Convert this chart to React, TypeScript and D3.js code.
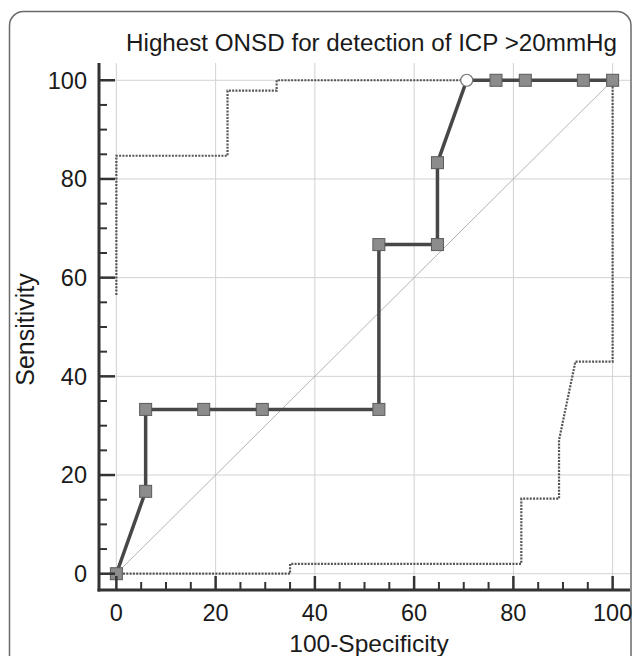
import React from 'react';
import * as d3 from 'd3';

// ROC points (100-Specificity, Sensitivity)
const rocX = [0, 5.9, 5.9, 17.6, 29.4, 52.9, 52.9, 64.7, 64.7, 70.6, 76.5, 82.4, 94.1, 100];
const rocY = [0, 16.7, 33.3, 33.3, 33.3, 33.3, 66.7, 66.7, 83.3, 100, 100, 100, 100, 100];
const optimalIndex = 9; // drawn as open circle

// 95% confidence bounds (dotted)
const upperX = [0, 0, 22.4, 22.4, 32.3, 32.3, 100];
const upperY = [56.5, 84.7, 84.7, 97.9, 97.9, 100, 100];
const lowerX = [0, 35, 35, 81.6, 81.6, 89.2, 89.2, 92.5, 100, 100];
const lowerY = [0, 0, 2, 2, 15.2, 15.2, 27.1, 43, 43, 100];

const majorTicks = [0, 20, 40, 60, 80, 100];
const minorTicks = [5, 10, 15, 25, 30, 35, 45, 50, 55, 65, 70, 75, 85, 90, 95];

const title = 'Highest ONSD for detection of ICP >20mmHg';
const xTitle = '100-Specificity';
const yTitle = 'Sensitivity';

const W = 633;
const H = 656;
const FONT = 'Liberation Sans, Arial, sans-serif';

export default function App() {
  const x = d3.scaleLinear().domain([-3.5, 103.5]).range([99, 630]);
  const y = d3.scaleLinear().domain([-3.3, 103.5]).range([590, 63]);

  const line = d3.line<[number, number]>().x(d => x(d[0])).y(d => y(d[1]));
  const roc = rocX.map((v, i) => [v, rocY[i]] as [number, number]);
  const upper = upperX.map((v, i) => [v, upperY[i]] as [number, number]);
  const lower = lowerX.map((v, i) => [v, lowerY[i]] as [number, number]);

  const [x0, x1] = x.range();
  const [y0, y1] = y.range();

  return (
    <svg width={W} height={H} style={{ position: 'absolute', left: 0, top: 0, background: '#fff' }}
      fontFamily={FONT}>
      <rect x={9.5} y={11.5} width={621.5} height={720} rx={14} fill="#fff" stroke="#6a6a6a" strokeWidth={1.5} />

      {/* grid */}
      {majorTicks.map(t => (
        <g key={'g' + t}>
          <line x1={x(t)} x2={x(t)} y1={y1} y2={y0} stroke="#d2d2d2" strokeWidth={1} />
          <line x1={x0} x2={x1} y1={y(t)} y2={y(t)} stroke="#d2d2d2" strokeWidth={1} />
        </g>
      ))}

      {/* diagonal */}
      <line x1={x(0)} y1={y(0)} x2={x(100)} y2={y(100)} stroke="#b4b4b4" strokeWidth={1} />

      {/* confidence bounds */}
      <path d={line(upper) || ''} fill="none" stroke="#555" strokeWidth={2.2} strokeDasharray="2 1.3" />
      <path d={line(lower) || ''} fill="none" stroke="#555" strokeWidth={2.2} strokeDasharray="2 1.3" />

      {/* ROC curve */}
      <path d={line(roc) || ''} fill="none" stroke="#474747" strokeWidth={3.5} />
      {roc.map((d, i) =>
        i === optimalIndex ? (
          <circle key={i} cx={x(d[0])} cy={y(d[1])} r={6} fill="#fff" stroke="#777" strokeWidth={1.2} />
        ) : (
          <rect key={i} x={x(d[0]) - 6} y={y(d[1]) - 6} width={12} height={12}
            fill="#8c8c8c" stroke="#5a5a5a" strokeWidth={1} />
        )
      )}

      {/* axes */}
      <line x1={x0} x2={x0} y1={y1} y2={y0 + 1.5} stroke="#333" strokeWidth={3} />
      <line x1={x0 - 1.5} x2={x1} y1={y0} y2={y0} stroke="#333" strokeWidth={3} />
      {majorTicks.map(t => (
        <g key={'m' + t}>
          <line x1={x0} x2={x0 + 16} y1={y(t)} y2={y(t)} stroke="#333" strokeWidth={2.5} />
          <line x1={x(t)} x2={x(t)} y1={y0} y2={y0 - 14} stroke="#333" strokeWidth={2.5} />
          <text x={87} y={y(t)} dy="0.36em" textAnchor="end" fontSize={23.5} fill="#1a1a1a">{t}</text>
          <text x={x(t)} y={621} textAnchor="middle" fontSize={23.5} fill="#1a1a1a">{t}</text>
        </g>
      ))}
      {minorTicks.map(t => (
        <g key={'n' + t}>
          <line x1={x0} x2={x0 + 8} y1={y(t)} y2={y(t)} stroke="#333" strokeWidth={2} />
          <line x1={x(t)} x2={x(t)} y1={y0} y2={y0 - 8} stroke="#333" strokeWidth={2} />
        </g>
      ))}

      {/* titles */}
      <text x={617} y={51} textAnchor="end" fontSize={24.2} fill="#1a1a1a">{title}</text>
      <text x={369} y={652} textAnchor="middle" fontSize={24.5} fill="#1a1a1a">{xTitle}</text>
      <text transform={`translate(34,${(y0 + y1) / 2 + 3}) rotate(-90)`} textAnchor="middle" fontSize={25}
        fill="#1a1a1a">{yTitle}</text>
    </svg>
  );
}
